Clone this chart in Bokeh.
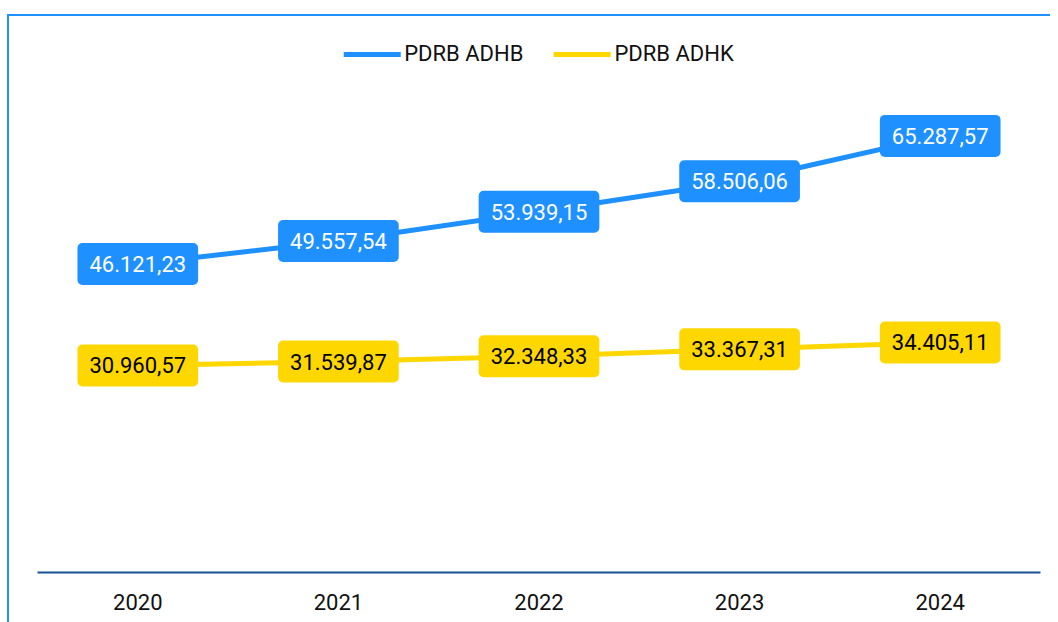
from bokeh.plotting import figure
from bokeh.models import ColumnDataSource, FactorRange, Range1d, Legend, LegendItem, InlineStyleSheet
from bokeh.embed import file_html
from bokeh.resources import INLINE
from bokeh.core.properties import value

years = ["2020", "2021", "2022", "2023", "2024"]
adhb = [46121.23, 49557.54, 53939.15, 58506.06, 65287.57]
adhk = [30960.57, 31539.87, 32348.33, 33367.31, 34405.11]
series_names = ["PDRB ADHB", "PDRB ADHK"]

BLUE = "#1E90FF"
GOLD = "#FFD700"
FONT = "Roboto"


def fmt(v):
    return f"{v:,.2f}".replace(",", "X").replace(".", ",").replace("X", ".")


p = figure(
    width=1050, height=614,
    x_range=FactorRange(*years, range_padding=0),
    y_range=Range1d(0, 80000),
    output_backend="svg", toolbar_location=None,
    min_border_left=37, min_border_right=10, min_border_top=37, min_border_bottom=42,
)
p.outline_line_color = None
p.xgrid.visible = False
p.ygrid.visible = False
p.yaxis.visible = False
p.background_fill_color = "white"
p.border_fill_color = "white"

ax = p.xaxis[0]
ax.axis_line_color = "#174F8F"
ax.axis_line_width = 2
ax.major_tick_line_color = None
ax.minor_tick_line_color = None
ax.major_label_text_font = FONT
ax.major_label_text_font_size = "22px"
ax.major_label_text_color = "#111111"
ax.major_label_standoff = 15

src = ColumnDataSource(dict(
    year=years, adhb=adhb, adhk=adhk,
    adhb_lbl=[fmt(v) for v in adhb], adhk_lbl=[fmt(v) for v in adhk],
))

r1 = p.line("year", "adhb", source=src, line_color=BLUE, line_width=5,
            line_cap="round", line_join="round")
r2 = p.line("year", "adhk", source=src, line_color=GOLD, line_width=5,
            line_cap="round", line_join="round")

pad = dict(left=12, right=12, top=13, bottom=13)
p.text("year", "adhb", text="adhb_lbl", source=src,
       text_align="center", text_baseline="middle",
       text_font=value(FONT), text_font_size="22px", text_color="white",
       background_fill_color=BLUE, border_radius=5, padding=pad)
p.text("year", "adhk", text="adhk_lbl", source=src,
       text_align="center", text_baseline="middle",
       text_font=value(FONT), text_font_size="22px", text_color="black",
       background_fill_color=GOLD, border_radius=5, padding=pad)

legend = Legend(
    items=[LegendItem(label=series_names[0], renderers=[r1]),
           LegendItem(label=series_names[1], renderers=[r2])],
    location="top_center", orientation="horizontal",
    glyph_width=57, glyph_height=20, label_standoff=4, spacing=30,
    label_text_font=FONT, label_text_font_size="22px", label_text_color="#111111",
    border_line_color=None, background_fill_alpha=0, margin=4, padding=4,
)
p.add_layout(legend, "center")

p.stylesheets = [InlineStyleSheet(css="""
:host::after {
  content: '';
  position: absolute;
  left: 7px; top: 14px; right: 0; bottom: -8px;
  border-left: 2px solid #1E90FF;
  border-top: 2px solid #1E90FF;
  pointer-events: none;
}
""")]

open("out.html", "w").write(file_html(p, INLINE))
